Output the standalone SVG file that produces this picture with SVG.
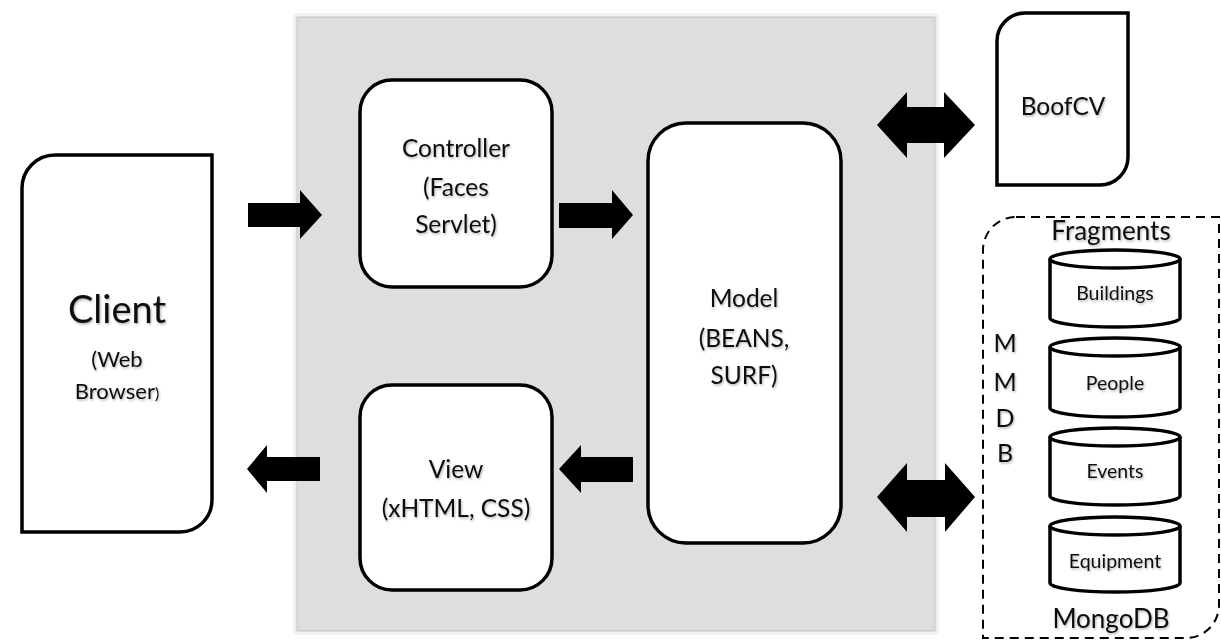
<svg xmlns="http://www.w3.org/2000/svg" width="1221" height="643" viewBox="0 0 1221 643">
<defs>
<filter id="ts" x="-10%" y="-20%" width="130%" height="150%">
<feDropShadow dx="1" dy="1.5" stdDeviation="0.8" flood-color="#000" flood-opacity="0.3"/>
</filter>
</defs>
<style>
text{font-family:Lato,"Liberation Sans",sans-serif;fill:#111;text-anchor:middle;filter:url(#ts)}
.box{fill:#fff;stroke:#000;stroke-width:3.5}
.lbl{font-size:24.5px}
.cyl{fill:#fff;stroke:#000;stroke-width:3.5}
.cl{font-size:19.5px}
.arrow{fill:#000}
</style>
<rect x="295" y="15" width="642" height="618" fill="#dedede" stroke="#f2f2f2" stroke-width="4"/>
<rect x="297" y="17" width="638" height="614" fill="none" stroke="#c4c4c4" stroke-width="1"/>
<g id="client">
<path class="box" d="M55 155 H212 V500 A32 32 0 0 1 180 532 H22 V188 A33 33 0 0 1 55 155 Z"/>
<text x="117" y="323" style="font-size:38px">Client</text>
<text x="117" y="367" style="font-size:22px">(Web</text>
<text x="117" y="399" style="font-size:22px">Browser<tspan style="font-size:16px">)</tspan></text>
</g>
<g id="controller">
<rect class="box" x="360" y="80" width="192" height="207" rx="32"/>
<text class="lbl" x="456" y="157">Controller</text>
<text class="lbl" x="456" y="196">(Faces</text>
<text class="lbl" x="456" y="233">Servlet)</text>
</g>
<g id="view">
<rect class="box" x="360" y="385" width="192" height="205" rx="32"/>
<text class="lbl" x="456" y="478">View</text>
<text class="lbl" x="456" y="517">(xHTML, CSS)</text>
</g>
<g id="model">
<rect class="box" x="648" y="123" width="193" height="420" rx="38"/>
<text class="lbl" x="744" y="307">Model</text>
<text class="lbl" x="744" y="347">(BEANS,</text>
<text class="lbl" x="744" y="384">SURF)</text>
</g>
<g id="boofcv">
<path class="box" d="M1025 13 H1128 V157 A28 28 0 0 1 1100 185 H997 V41 A28 28 0 0 1 1025 13 Z"/>
<text class="lbl" x="1063" y="115">BoofCV</text>
</g>
<g id="mmdb">
<path d="M1016 217 H1219 V605 A33 33 0 0 1 1186 638 H983 V250 A33 33 0 0 1 1016 217 Z" fill="none" stroke="#000" stroke-width="2" stroke-dasharray="9 6"/>
<text x="1111" y="240" style="font-size:26px">Fragments</text>
<text x="1111" y="628" style="font-size:26px">MongoDB</text>
<text x="1005" y="352" style="font-size:25px">M</text>
<text x="1005" y="391" style="font-size:25px">M</text>
<text x="1005" y="427" style="font-size:25px">D</text>
<text x="1005" y="462" style="font-size:25px">B</text>
</g>
<g id="buildings">
<path class="cyl" d="M1050 259 V318 A65 9 0 0 0 1180 318 V259"/>
<ellipse class="cyl" cx="1115" cy="259" rx="65" ry="9"/>
<text class="cl" x="1115" y="300">Buildings</text>
</g>
<g id="people">
<path class="cyl" d="M1050 347 V408 A65 9 0 0 0 1180 408 V347"/>
<ellipse class="cyl" cx="1115" cy="347" rx="65" ry="9"/>
<text class="cl" x="1115" y="390">People</text>
</g>
<g id="events">
<path class="cyl" d="M1050 437 V496 A65 9 0 0 0 1180 496 V437"/>
<ellipse class="cyl" cx="1115" cy="437" rx="65" ry="9"/>
<text class="cl" x="1115" y="478">Events</text>
</g>
<g id="equipment">
<path class="cyl" d="M1050 526 V583 A65 9 0 0 0 1180 583 V526"/>
<ellipse class="cyl" cx="1115" cy="526" rx="65" ry="9"/>
<text class="cl" x="1115" y="568">Equipment</text>
</g>
<g id="connectors">
<polygon class="arrow" points="248,203 300,203 300,190 322,215 300,239 300,227 248,227"/>
<polygon class="arrow" points="559,203 612,203 612,190 633,215 612,239 612,228 559,228"/>
<polygon class="arrow" points="633,457 581,457 581,445 559,469 581,493 581,482 633,482"/>
<polygon class="arrow" points="320,457 267,457 267,445 247,469 267,493 267,481 320,481"/>
<polygon class="arrow" points="877,125 907,92 907,107 944,107 944,92 975,125 944,158 944,143 907,143 907,158"/>
<polygon class="arrow" points="877,497 907,463 907,480 945,480 945,463 975,497 945,532 945,517 907,517 907,532"/>
</g>
</svg>
